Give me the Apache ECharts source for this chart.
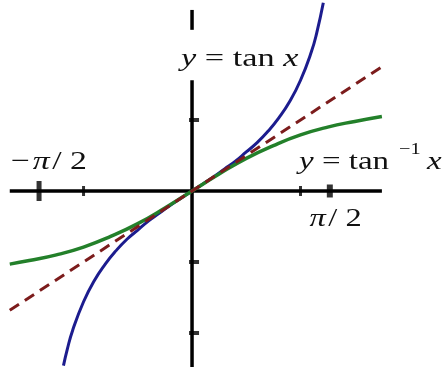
<!DOCTYPE html>
<html>
<head>
<meta charset="utf-8">
<script src="https://cdn.jsdelivr.net/npm/echarts/dist/echarts.min.js"></script>
<style>
  html, body { margin: 0; padding: 0; background: #fff; }
  #chart { width: 442px; height: 367px; }
</style>
</head>
<body>
<div id="chart"></div>
<script>
// y = tan x
const tanX = [-1.185, -1.15, -1.1, -1.0, -0.9, -0.8, -0.7, -0.6, -0.5, -0.4, -0.3, -0.2, -0.1, 0,
  0.1, 0.2, 0.3, 0.4, 0.5, 0.6, 0.7, 0.8, 0.9, 1.0, 1.1, 1.15, 1.21];
const tanY = [-2.46, -2.23, -1.96, -1.56, -1.26, -1.03, -0.84, -0.68, -0.55, -0.42, -0.31, -0.2, -0.1, 0,
  0.1, 0.2, 0.31, 0.42, 0.55, 0.68, 0.84, 1.03, 1.26, 1.56, 1.96, 2.23, 2.65];

// y = tan^-1 x
const atanX = [-1.68, -1.5, -1.25, -1.0, -0.75, -0.5, -0.25, 0, 0.25, 0.5, 0.75, 1.0, 1.25, 1.5, 1.75];
const atanY = [-1.03, -0.98, -0.9, -0.79, -0.64, -0.46, -0.24, 0, 0.24, 0.46, 0.64, 0.79, 0.9, 0.98, 1.05];

// y = x (dashed)
const lineX = [-1.68, 1.74];
const lineY = [-1.68, 1.74];

// axes extent and ticks
const xAxisEnds = [-1.68, 1.75];
const yAxisTop = [2.55, 2.27];
const yAxisBottom = [1.56, -2.6];
const xMinorTicks = [-1, 1];
const xMajorTicks = [-1.41, 1.27]; // where the picture puts the -pi/2 and pi/2 marks
const yTicks = [1, -1, -2];

const zip = (a, b) => a.map((v, i) => [v, b[i]]);

const chart = echarts.init(document.getElementById("chart"));

// the original picture is stretched sideways, text too
const serif = "'Liberation Serif', 'DejaVu Serif', serif";
const rich = {
  i: { fontFamily: serif, fontStyle: "italic", fontSize: 26, fill: "#111" },
  r: { fontFamily: serif, fontSize: 26, fill: "#111" },
  p: { fontFamily: serif, fontStyle: "italic", fontSize: 26, fill: "#111", padding: [0, 2, 0, 2] },
  s: { fontFamily: serif, fontSize: 16, fill: "#111" }
};
const label = (x, y, text, sx) => ({
  type: "text", x: x, y: y, scaleX: sx,
  style: { text: text, rich: rich, align: "left", verticalAlign: "middle" }
});

chart.setOption({
  animation: false,
  backgroundColor: "#fff",
  grid: { left: 0, right: 0, top: 0, bottom: 0 },
  xAxis: { type: "value", min: -1.77, max: 2.304, show: false },
  yAxis: { type: "value", min: -2.479, max: 2.69, show: false },
  series: [
    {
      type: "line", data: xAxisEnds.map(x => [x, 0]), symbol: "none", silent: true,
      lineStyle: { color: "#000", width: 3.5 }
    },
    {
      type: "line", data: yAxisTop.map(y => [0, y]), symbol: "none", silent: true,
      lineStyle: { color: "#000", width: 3.5 }
    },
    {
      type: "line", data: yAxisBottom.map(y => [0, y]), symbol: "none", silent: true,
      lineStyle: { color: "#000", width: 3.5 }
    },
    {
      type: "scatter", silent: true, symbol: "rect", itemStyle: { color: "#000" },
      data: [
        ...xMinorTicks.map(x => ({ value: [x, 0], symbolSize: [3, 10] })),
        { value: [xMajorTicks[0], 0], symbolSize: [5, 20] },
        { value: [xMajorTicks[1], 0], symbolSize: [6, 13] },
        ...yTicks.map(y => ({ value: [0, y], symbolSize: [10, 4], symbolOffset: [2, 0] }))
      ]
    },
    {
      name: "tan", type: "line", smooth: true, symbol: "none", data: zip(tanX, tanY),
      lineStyle: { color: "#1c1c8e", width: 3 }
    },
    {
      name: "atan", type: "line", smooth: true, symbol: "none", data: zip(atanX, atanY),
      lineStyle: { color: "#23802a", width: 3.5 }
    },
    {
      name: "identity", type: "line", symbol: "none", data: zip(lineX, lineY),
      lineStyle: { color: "#7c1c1c", width: 3, type: [11, 7] }
    }
  ],
  graphic: [
    label(181, 59, "{i|y}{r| = tan }{i|x}", 1.32),
    label(299, 162, "{i|y}{r| = tan}", 1.27),
    label(399, 150, "{s|−1}", 1.27),
    label(427, 162, "{i|x}", 1.27),
    label(11, 162, "{r|−}{p|π}{r|/ 2}", 1.3),
    label(307, 219, "{p|π}{r|/ 2}", 1.25)
  ]
});
</script>
</body>
</html>
